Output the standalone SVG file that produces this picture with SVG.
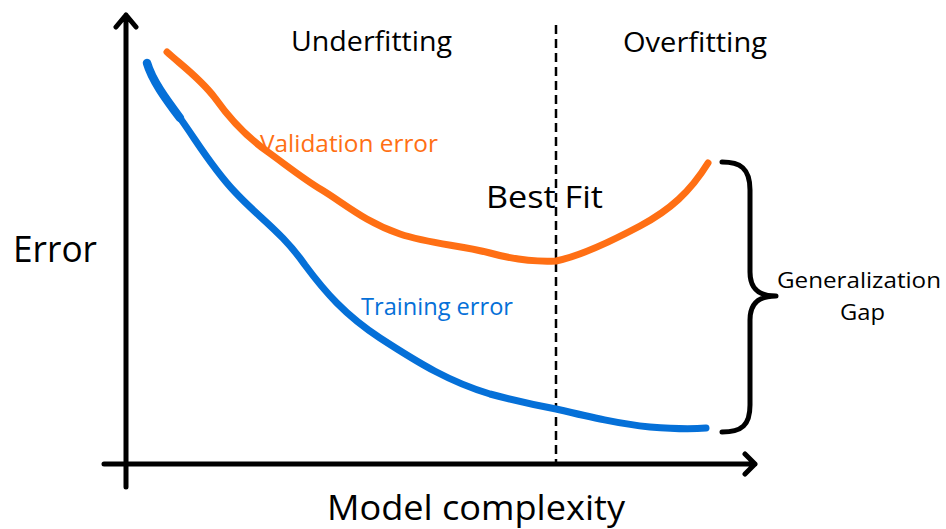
<svg xmlns="http://www.w3.org/2000/svg" width="946" height="529" viewBox="0 0 946 529">
<style>
.ax{fill:none;stroke:#000;stroke-width:5;stroke-linecap:round;stroke-linejoin:round}
.t{font-family:"Open Sans","Noto Sans","Liberation Sans",sans-serif;fill:#000}
.curve{fill:none;stroke-width:7;stroke-linecap:round;stroke-linejoin:round}
</style>
<rect width="946" height="529" fill="#fff"/>
<g id="axes">
<path class="ax" d="M126,487 V15 M116,27 L126,15 L136,27"/>
<path class="ax" d="M104,464 H755 M745,454 L755,464 L745,474"/>
</g>
<g id="divider">
<line x1="556" y1="25" x2="556" y2="462" stroke="#000" stroke-width="2.5" stroke-dasharray="9,5"/>
</g>
<g id="validation-curve">
<path class="curve" stroke="#ff6f14" d="M167,52 C180,64 200,78 215,98 C232,122 248,138 268,152 C290,168 305,180 322,190 C345,204 365,222 400,234 C430,244 460,245 490,253 C515,260 535,262 556,261 C580,256 610,242 640,226 C670,210 690,192 708,163"/>
<text class="t" x="260" y="152" font-size="23" textLength="178" lengthAdjust="spacingAndGlyphs" style="fill:#ff6f14">Validation error</text>
</g>
<g id="training-curve">
<path class="curve" stroke="#0570d8" d="M147,63 C152,80 165,98 180,118 C196,140 212,168 235,192 C258,217 282,232 305,265 C325,292 345,315 380,338 C420,364 450,382 490,394 C520,402 540,406 556,409 C590,417 620,424 650,427 C675,429 695,429 706,428"/>
<path d="M147,63 C152,80 165,98 180,118" fill="none" stroke="#0570d8" stroke-width="8.5" stroke-linecap="round"/>
<text class="t" x="361" y="315" font-size="23" textLength="152" lengthAdjust="spacingAndGlyphs" style="fill:#0570d8">Training error</text>
</g>
<g id="brace">
<path class="ax" d="M722,162 C740,162 750,168 750,190 V272 C750,290 760,296 776,296 C760,296 750,302 750,320 V405 C750,425 742,432 722,432"/>
<text class="t" x="777" y="288" font-size="21.5" textLength="164" lengthAdjust="spacingAndGlyphs">Generalization</text>
<text class="t" x="840" y="320" font-size="21.5" textLength="45" lengthAdjust="spacingAndGlyphs">Gap</text>
</g>
<g id="labels">
<text class="t" x="291" y="51" font-size="27" textLength="161" lengthAdjust="spacingAndGlyphs">Underfitting</text>
<text class="t" x="623" y="52" font-size="27" textLength="144" lengthAdjust="spacingAndGlyphs">Overfitting</text>
<text class="t" x="486" y="208" font-size="31" textLength="117" lengthAdjust="spacingAndGlyphs">Best Fit</text>
<text class="t" x="13" y="262" font-size="36" textLength="84" lengthAdjust="spacingAndGlyphs">Error</text>
<text class="t" x="327" y="520" font-size="35" textLength="298" lengthAdjust="spacingAndGlyphs">Model complexity</text>
</g>
</svg>
